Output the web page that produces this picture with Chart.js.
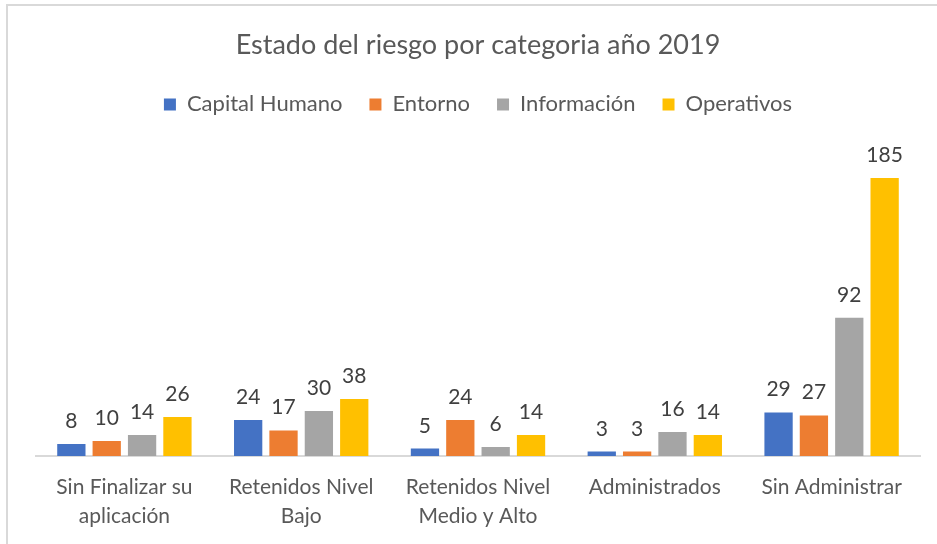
<!DOCTYPE html>
<html>
<head>
<meta charset="utf-8">
<script src="https://cdn.jsdelivr.net/npm/chart.js@4/dist/chart.umd.min.js"></script>
<style>
  html, body { margin: 0; padding: 0; background: #fff; overflow: hidden; }
  #frame { position: absolute; left: 6px; top: 4px; width: 1000px; height: 600px;
           border-left: 2px solid #d9d9d9; border-top: 2px solid #d9d9d9; }
  #wrap { position: absolute; left: 0; top: 0; width: 937px; height: 544px; }
</style>
</head>
<body>
<div id="frame"></div>
<div id="wrap"><canvas id="c" width="937" height="544"></canvas></div>
<script>
const categories = [
  ["Sin Finalizar su", "aplicación"],
  ["Retenidos Nivel", "Bajo"],
  ["Retenidos Nivel", "Medio y Alto"],
  "Administrados",
  "Sin Administrar"
];
const seriesNames = ["Capital Humano", "Entorno", "Información", "Operativos"];
const capitalHumano = [8, 24, 5, 3, 29];
const entorno = [10, 17, 24, 3, 27];
const informacion = [14, 30, 6, 16, 92];
const operativos = [26, 38, 14, 14, 185];
const colors = ["#4472C4", "#ED7D31", "#A5A5A5", "#FFC000"];
const titleText = "Estado del riesgo por categoria año 2019";

const FONT = "Lato, 'Open Sans', sans-serif";

const valueLabels = {
  id: 'valueLabels',
  afterDatasetsDraw(chart) {
    const ctx = chart.ctx;
    ctx.save();
    ctx.font = "21px " + FONT;
    ctx.fillStyle = "#404040";
    ctx.textAlign = "center";
    ctx.textBaseline = "alphabetic";
    chart.data.datasets.forEach((ds, i) => {
      const meta = chart.getDatasetMeta(i);
      meta.data.forEach((bar, j) => {
        ctx.fillText(String(ds.data[j]), bar.x, bar.y - 16);
      });
    });
    ctx.restore();
  }
};

const legendGap = {
  id: 'legendGap',
  beforeInit(chart) {
    const lg = chart.legend;
    const origFit = lg.fit;
    lg.fit = function () {
      origFit.call(this);
      this.height += 30;
    };
  }
};

new Chart(document.getElementById('c'), {
  type: 'bar',
  data: {
    labels: categories,
    datasets: [capitalHumano, entorno, informacion, operativos].map((d, i) => ({
      label: seriesNames[i],
      data: d,
      backgroundColor: colors[i],
      categoryPercentage: 0.8,
      barPercentage: 0.8
    }))
  },
  options: {
    responsive: false,
    animation: false,
    devicePixelRatio: 1,
    layout: { padding: { left: 36, right: 17, top: 0, bottom: -4 } },
    plugins: {
      title: {
        display: true,
        text: titleText,
        color: "#595959",
        font: { family: FONT, size: 27, weight: 'normal' },
        padding: { top: 29, bottom: 5 }
      },
      legend: {
        display: true,
        position: 'top',
        labels: {
          color: "#595959",
          font: { family: FONT, size: 22 },
          boxWidth: 12,
          boxHeight: 12,
          padding: 27
        }
      },
      tooltip: { enabled: false }
    },
    scales: {
      x: {
        grid: { display: true, drawOnChartArea: false, drawTicks: false, color: 'rgba(0,0,0,0)' },
        border: { display: true, color: "#d9d9d9", width: 2 },
        ticks: {
          color: "#595959",
          font: { family: FONT, size: 21, lineHeight: 1.38 },
          padding: 17,
          maxRotation: 0,
          autoSkip: false
        }
      },
      y: {
        display: false,
        min: 0,
        max: 200
      }
    }
  },
  plugins: [valueLabels, legendGap]
});
</script>
</body>
</html>
